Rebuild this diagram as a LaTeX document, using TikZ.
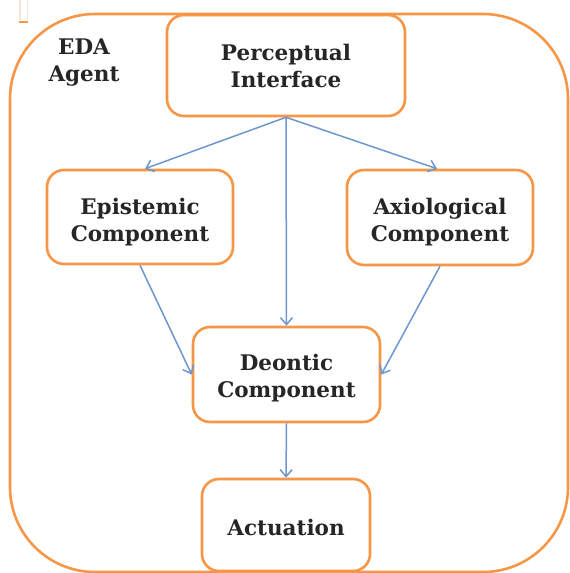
\documentclass[tikz,border=0pt]{standalone}
\usepackage{fontspec}
\setmainfont{DejaVu Serif}
\usetikzlibrary{arrows.meta}
\definecolor{boxorange}{HTML}{F79646}
\definecolor{arrowblue}{HTML}{6D96CE}
\definecolor{txt}{HTML}{262626}
\tikzset{
  comp/.style={draw=boxorange, line width=2.6pt, rounded corners=17pt, fill=white,
    inner sep=0pt},
  flow/.style={draw=arrowblue, line width=1.5pt,
    -{Straight Barb[length=7pt,width=12pt,line width=1.5pt]}},
  lbl/.style={align=center, text=txt, font=\bfseries\fontsize{21.5}{27}\selectfont, inner sep=0pt}
}
\begin{document}
\begin{tikzpicture}[x=1pt,y=-1pt]
\useasboundingbox (0,0) rectangle (570,573);
% outer agent boundary
\draw[draw=boxorange, line width=2.6pt, rounded corners=85pt] (10,14) rectangle (568,572);
% small mark at top left
\fill[boxorange!25] (19,0) rectangle (20.5,20);
\fill[boxorange!25] (26.5,0) rectangle (28,20);
\fill[boxorange] (19,20.5) rectangle (28,23);
\node[lbl] (agent) at (84,63) {EDA\\Agent};
\node[comp, minimum width=238pt, minimum height=101pt,
  label={[lbl]center:Perceptual\\Interface}] (pi) at (286,65.5) {};
\node[comp, minimum width=186pt, minimum height=94pt,
  label={[lbl,yshift=-5pt]center:Epistemic\\Component}] (ep) at (140,217) {};
\node[comp, minimum width=186pt, minimum height=95pt,
  label={[lbl,yshift=-5pt]center:Axiological\\Component}] (ax) at (440,217.5) {};
\node[comp, minimum width=187pt, minimum height=95pt,
  label={[lbl,yshift=-4pt]center:Deontic\\Component}] (de) at (286.5,374.5) {};
\node[comp, minimum width=168pt, minimum height=92pt,
  label={[lbl,yshift=-2pt]center:Actuation}] (ac) at (286,525) {};
\draw[flow] (pi.south) -- ([xshift=5pt]ep.north);
\draw[flow] (pi.south) -- ([xshift=-3pt]ax.north);
\draw[flow] (pi.south) -- (de.north);
\draw[flow] (ep.south) -- (de.west);
\draw[flow] (ax.south) -- (de.east);
\draw[flow] (de.south) -- (ac.north);
\end{tikzpicture}
\end{document}
